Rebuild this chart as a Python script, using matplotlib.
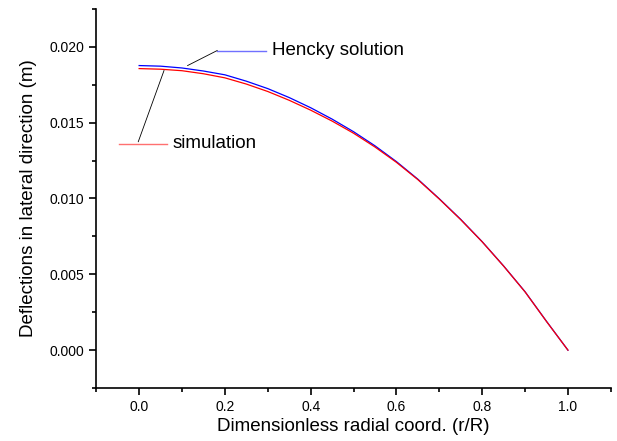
import matplotlib

matplotlib.use("Agg")
import matplotlib.pyplot as plt
from matplotlib.ticker import MultipleLocator

plt.rcParams["font.family"] = ["Liberation Sans", "DejaVu Sans"]

# values
r_vals = [0.0, 0.05, 0.1, 0.15, 0.2, 0.25, 0.3, 0.35, 0.4, 0.45, 0.5,
          0.55, 0.6, 0.65, 0.7, 0.75, 0.8, 0.85, 0.9, 0.95, 1.0]
hencky = [0.01876, 0.01872, 0.01860, 0.01840, 0.01815, 0.01773, 0.01724,
          0.01665, 0.01598, 0.01523, 0.01440, 0.01347, 0.01243, 0.01127,
          0.00998, 0.00862, 0.00715, 0.00555, 0.00385, 0.00190, 0.0]
simulation = [0.01856, 0.01852, 0.01842, 0.01822, 0.01795, 0.01754, 0.01705,
              0.01647, 0.01582, 0.01510, 0.01430, 0.01339, 0.01238, 0.01124,
              0.00996, 0.00860, 0.00714, 0.00554, 0.00384, 0.00189, 0.0]

fig = plt.figure(figsize=(6.17, 4.41), dpi=100)
ax = fig.add_axes([0.156, 0.12, 0.834, 0.86])

ax.plot(r_vals, hencky, color="#0000ff", lw=0.9)
ax.plot(r_vals, simulation, color="#ff0000", lw=0.9)

# legend-like annotations with leader lines
ax.plot([0.182, 0.296], [0.01975, 0.01975], color="#7070ff", lw=1.0)
ax.plot([0.182, 0.113], [0.01975, 0.01876], color="black", lw=0.6)
ax.text(0.311, 0.01975, "Hencky solution", fontsize=13.5, va="center", ha="left")

ax.plot([-0.047, 0.064], [0.01361, 0.01361], color="#ff7070", lw=1.0)
ax.plot([-0.002, 0.058], [0.01374, 0.01843], color="black", lw=0.6)
ax.text(0.079, 0.01361, "simulation", fontsize=13.5, va="center", ha="left")

ax.set_xlim(-0.1, 1.1)
ax.set_ylim(-0.0025, 0.0225)
ax.xaxis.set_major_locator(MultipleLocator(0.2))
ax.xaxis.set_minor_locator(MultipleLocator(0.1))
ax.yaxis.set_major_locator(MultipleLocator(0.005))
ax.yaxis.set_minor_locator(MultipleLocator(0.0025))
ax.xaxis.set_major_formatter(plt.FuncFormatter(lambda v, p: f"{v:.1f}"))
ax.yaxis.set_major_formatter(plt.FuncFormatter(lambda v, p: f"{v:.3f}"))

for s in ("top", "right"):
    ax.spines[s].set_visible(False)
for s in ("left", "bottom"):
    ax.spines[s].set_linewidth(1.2)
ax.tick_params(which="major", direction="out", length=5, width=1.2, labelsize=10)
ax.tick_params(which="minor", direction="out", length=3, width=1.2)

ax.set_xlabel("Dimensionless radial coord. (r/R)", fontsize=13.5, labelpad=3)
ax.set_ylabel("Deflections in lateral direction (m)", fontsize=13.5, labelpad=9)

fig.savefig("out.png", dpi=100)
